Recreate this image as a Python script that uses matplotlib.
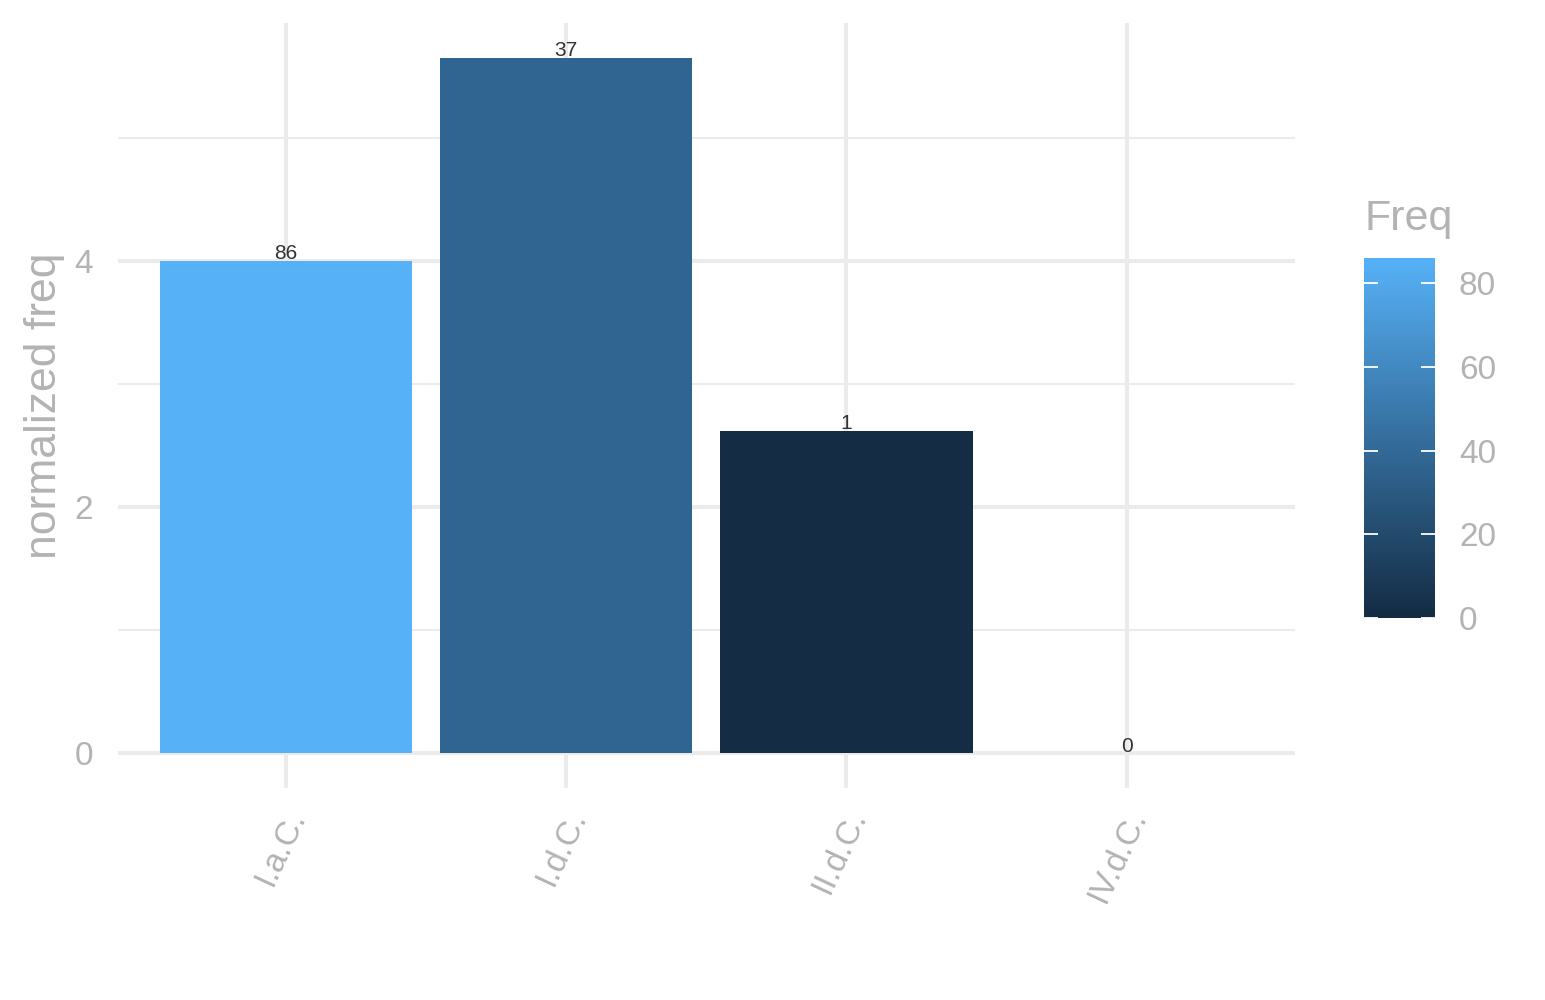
import numpy as np
import matplotlib
matplotlib.use("Agg")
import matplotlib.pyplot as plt
import matplotlib.transforms as mtransforms
from matplotlib.colors import LinearSegmentedColormap, Normalize
from matplotlib.cm import ScalarMappable

# data
categories = ["I.a.C.", "I.d.C.", "II.d.C.", "IV.d.C."]
norm_freq = [4.0, 5.65, 2.62, 0.0]
freq = [86, 37, 1, 0]

plt.rcParams["font.family"] = ["Liberation Sans", "DejaVu Sans"]
grey_txt = "#B3B3B3"
grid_col = "#EBEBEB"

cmap = LinearSegmentedColormap.from_list("gg", ["#132B43", "#56B1F7"])
cnorm = Normalize(vmin=0, vmax=max(freq))

fig = plt.figure(figsize=(15.45, 10), dpi=100)
ax = fig.add_axes([0.0764, 0.212, 0.7616, 0.765])

x = np.arange(1, len(categories) + 1)
ax.bar(x, norm_freq, width=0.9, color=cmap(cnorm(freq)), zorder=2)
for xi, h, f in zip(x, norm_freq, freq):
    ax.text(xi, h - 0.02, str(f), ha="center", va="bottom", fontsize=15,
            color="#333333", zorder=3)

ymax = max(norm_freq)
ax.set_xlim(0.4, len(categories) + 0.6)
ax.set_ylim(-0.05 * ymax, 1.05 * ymax)

ax.set_yticks([0, 2, 4])
ax.set_yticks([1, 3, 5], minor=True)
ax.set_xticks(x)
ax.set_xticklabels(categories, rotation=65, ha="right", va="center",
                   rotation_mode="anchor")
ax.tick_params(axis="both", which="both", length=0, labelsize=24,
               labelcolor=grey_txt)
ax.tick_params(axis="y", pad=18)
ax.tick_params(axis="x", pad=17)
shift = mtransforms.ScaledTranslation(0.12, 0, fig.dpi_scale_trans)
for lab in ax.get_xticklabels():
    lab.set_transform(lab.get_transform() + shift)

ax.grid(True, which="major", color=grid_col, linewidth=2.9, zorder=0)
ax.grid(True, which="minor", axis="y", color=grid_col, linewidth=1.45, zorder=0)
ax.set_axisbelow(True)
for s in ax.spines.values():
    s.set_visible(False)

ax.set_ylabel("normalized freq", fontsize=32, color=grey_txt, labelpad=7)

# colour bar legend
cax = fig.add_axes([0.883, 0.382, 0.046, 0.360])
sm = ScalarMappable(norm=cnorm, cmap=cmap)
cb = fig.colorbar(sm, cax=cax, ticks=[0, 20, 40, 60, 80])
cb.outline.set_visible(False)
cax.tick_params(direction="in", length=10, width=1.3, color="white",
                left=True, right=True, labelsize=24, labelcolor=grey_txt,
                pad=17)
fig.text(0.883, 0.761, "Freq", fontsize=31, color=grey_txt,
         ha="left", va="bottom")

fig.savefig("out.png", dpi=100)
